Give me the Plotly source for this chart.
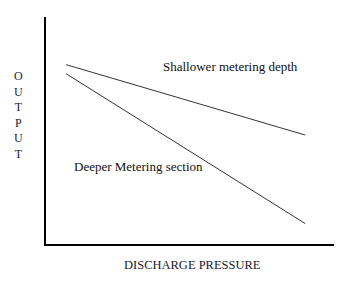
import plotly.graph_objects as go

pressure = [7, 90]
shallow_output = [79, 48]
deep_output = [75, 9]

series_names = ["Shallower metering depth", "Deeper Metering section"]
x_title = "DISCHARGE PRESSURE"
y_title = "OUTPUT"

font_family = "Liberation Serif, Times New Roman, serif"
line_color = "#333333"

fig = go.Figure()
fig.add_trace(go.Scatter(x=pressure, y=shallow_output, mode="lines",
                         line=dict(color=line_color, width=1), name=series_names[0]))
fig.add_trace(go.Scatter(x=pressure, y=deep_output, mode="lines",
                         line=dict(color=line_color, width=1), name=series_names[1]))

fig.add_annotation(x=64, y=78, xref="x", yref="y", text=series_names[0],
                   showarrow=False, font=dict(family=font_family, size=13, color="#111"))
fig.add_annotation(x=32, y=34, xref="x", yref="y", text=series_names[1],
                   showarrow=False, font=dict(family=font_family, size=13, color="#111"))
fig.add_annotation(x=0.507, y=-0.055, xref="paper", yref="paper", yanchor="top",
                   text=x_title, showarrow=False,
                   font=dict(family=font_family, size=12.5, color="#1a1a2e"))
fig.add_annotation(x=-0.097, y=0.57, xref="paper", yref="paper", xanchor="center", yanchor="middle",
                   text="<br>".join(list(y_title)), showarrow=False,
                   font=dict(family=font_family, size=12, color="#1a1a3a"))

fig.update_layout(
    width=358, height=283,
    margin=dict(l=46, r=24, t=17, b=39),
    paper_bgcolor="white", plot_bgcolor="white",
    showlegend=False,
    xaxis=dict(range=[0, 100], showline=True, linecolor="black", linewidth=2,
               showgrid=False, zeroline=False, showticklabels=False, ticks=""),
    yaxis=dict(range=[0, 100], showline=True, linecolor="black", linewidth=2,
               showgrid=False, zeroline=False, showticklabels=False, ticks=""),
)
fig.write_html("out.html")
